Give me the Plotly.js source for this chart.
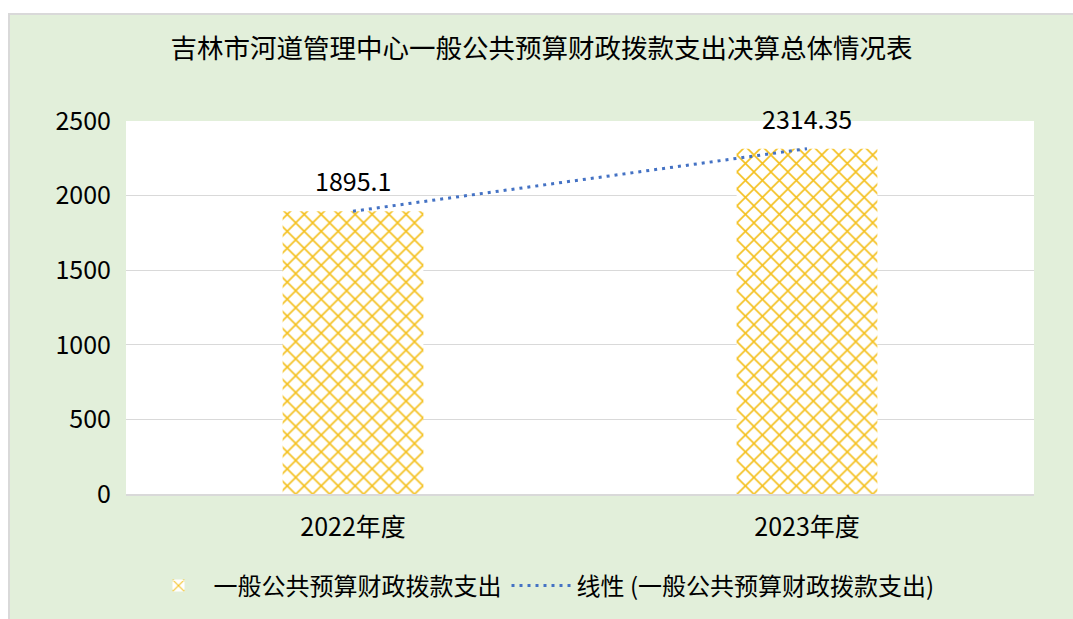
<!DOCTYPE html>
<html>
<head>
<meta charset="utf-8">
<script src="https://cdn.plot.ly/plotly-3.0.1.min.js"></script>
<style>
  html, body { margin: 0; padding: 0; background: #ffffff; width: 1073px; height: 619px; overflow: hidden; }
  #frame { position: absolute; left: 8px; top: 13px; width: 1065px; height: 606px;
           border-left: 2px solid #d9d9d9; border-top: 2px solid #d9d9d9; box-sizing: border-box; background: #e2efda; }
  #chart { width: 1063px; height: 604px; }
</style>
</head>
<body>
<div id="frame"><div id="chart"></div></div>
<script>
// ---- data ----
const categories = ["2022年度", "2023年度"];
const expenditure = [1895.1, 2314.35];
const barName = "一般公共预算财政拨款支出";
const trendName = "线性 (一般公共预算财政拨款支出)";
const chartTitle = "吉林市河道管理中心一般公共预算财政拨款支出决算总体情况表";
const yTicks = [0, 500, 1000, 1500, 2000, 2500];

const FONT = '"Noto Sans CJK SC", "Noto Sans", sans-serif';

const bars = {
  type: "bar",
  name: barName,
  x: categories,
  y: expenditure,
  width: 0.31,
  marker: {
    color: "#ffffff",
    line: { width: 0 },
    pattern: { shape: "x", fgcolor: "#f4c01e", fgopacity: 1, bgcolor: "#ffffff", size: 12, solidity: 0.25, fillmode: "overlay" }
  },
  hoverinfo: "x+y"
};

const trend = {
  type: "scatter",
  mode: "lines",
  name: trendName,
  x: categories,
  y: expenditure,
  line: { color: "#4472c4", width: 3, dash: "3px,5px" },
  hoverinfo: "skip"
};

const labels = categories.map((c, i) => ({
  x: c, y: expenditure[i], xref: "x", yref: "y",
  text: String(expenditure[i]), showarrow: false,
  yanchor: "middle", yshift: 31,
  font: { family: FONT, size: 25, color: "#000000" }
}));

const layout = {
  width: 1063, height: 604,
  paper_bgcolor: "#e2efda",
  plot_bgcolor: "#ffffff",
  margin: { l: 116, r: 39, t: 106, b: 125 },
  font: { family: FONT, color: "#000000" },
  title: {
    text: chartTitle,
    font: { family: FONT, size: 26.5, color: "#000000" },
    xref: "container", x: 0.5, xanchor: "center",
    yref: "container", y: 1 - 34 / 604, yanchor: "middle"
  },
  xaxis: {
    type: "category",
    showline: true, linecolor: "#d9d9d9", linewidth: 1.5,
    ticks: "", showgrid: false,
    tickfont: { family: FONT, size: 25, color: "#000000" },
    ticklabelstandoff: 10
  },
  yaxis: {
    range: [0, 2500],
    tickvals: yTicks,
    ticktext: yTicks.map(String),
    showgrid: true, gridcolor: "#d9d9d9", gridwidth: 1,
    zeroline: false, showline: false, ticks: "",
    tickfont: { family: FONT, size: 25, color: "#000000" },
    ticklabelstandoff: 14
  },
  showlegend: true,
  legend: {
    orientation: "h",
    xref: "container", x: 0.5, xanchor: "center",
    yref: "container", y: 1 - 571 / 604, yanchor: "middle",
    font: { family: FONT, size: 24, color: "#000000" },
    itemwidth: 60,
    bgcolor: "rgba(0,0,0,0)"
  },
  annotations: labels,
  bargap: 0.69
};

Plotly.newPlot("chart", [bars, trend], layout, { displayModeBar: false, staticPlot: true });
</script>
</body>
</html>
